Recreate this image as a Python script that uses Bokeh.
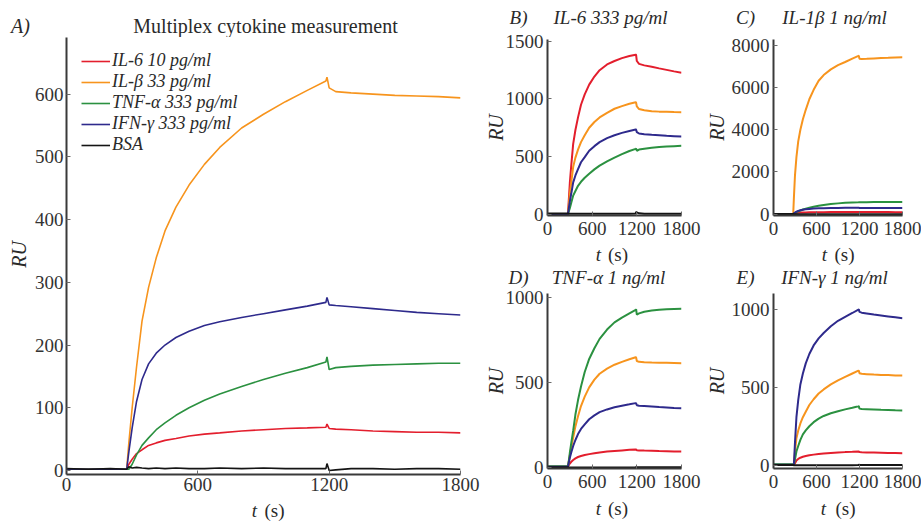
import math
from bokeh.plotting import figure
from bokeh.models import Range1d, FixedTicker, Label
from bokeh.layouts import row, column
from bokeh.embed import file_html
from bokeh.resources import INLINE

# ---------------- data (time in s, response in RU) ----------------
T = [0, 100, 200, 275, 285, 300, 320, 345, 375, 410, 450, 500, 560, 630, 700,
     800, 900, 1000, 1100, 1185, 1190, 1200, 1230, 1300, 1400, 1500, 1600, 1700, 1800]

LEGEND_LABELS = ["IL-6 10 pg/ml", "IL-β 33 pg/ml", "TNF-α 333 pg/ml", "IFN-γ 333 pg/ml", "BSA"]
PANEL_TITLES = ["IL-6 333 pg/ml", "IL-1β 1 ng/ml", "TNF-α 1 ng/ml", "IFN-γ 1 ng/ml"]
PANEL_LETTERS = ["B)", "C)", "D)", "E)"]
X_TICKS = [0, 600, 1200, 1800]

# Panel A: multiplex
A_IL6 = [2, 2, 2, 2, 10, 18, 27, 33, 40, 44, 48, 51, 55, 58, 60, 63, 65, 67, 68, 69, 74, 67, 66, 65, 63, 62, 61, 61, 60]
A_IL1B = [2, 2, 2, 2, 45, 100, 165, 238, 292, 339, 382, 420, 455, 488, 515, 546, 568, 588, 606, 621, 627, 610, 604, 602, 600, 598, 597, 596, 594]
A_TNF = [2, 2, 2, 2, 2, 10, 25, 40, 52, 65, 76, 88, 100, 112, 122, 134, 145, 155, 164, 173, 181, 161, 164, 166, 168, 169, 170, 171, 171]
A_IFN = [2, 2, 2, 2, 30, 68, 110, 145, 170, 187, 200, 212, 222, 231, 237, 244, 250, 256, 262, 268, 276, 264, 263, 261, 258, 255, 252, 250, 248]
A_BSA = [3, 2, 3, 2, 6, 4, 5, 4, 3, 4, 3, 4, 3, 3, 4, 3, 4, 3, 3, 3, 11, 0, 1, 3, 3, 2, 3, 3, 2]
A_YTICKS = [0, 100, 200, 300, 400, 500, 600]

# Panel B: IL-6 333 pg/ml
B_IL6 = [0, 0, 0, 0, 110, 270, 430, 610, 730, 840, 950, 1040, 1125, 1195, 1250, 1300, 1330, 1355, 1373, 1385, 1383, 1330, 1305, 1292, 1280, 1266, 1253, 1240, 1228]
B_IL1B = [0, 0, 0, 0, 70, 170, 280, 410, 490, 560, 625, 685, 750, 800, 840, 880, 915, 938, 958, 972, 968, 935, 912, 902, 894, 890, 888, 886, 885]
B_TNF = [0, 0, 0, 0, 20, 50, 100, 160, 200, 245, 280, 315, 350, 388, 420, 457, 490, 520, 548, 566, 568, 550, 560, 568, 576, 582, 587, 590, 593]
B_IFN = [0, 0, 0, 0, 45, 110, 180, 275, 335, 390, 450, 495, 550, 590, 625, 660, 685, 705, 722, 735, 733, 712, 700, 694, 688, 684, 680, 677, 674]
B_BSA = [5, 5, 5, 5, 3, 2, 2, 2, 2, 2, 2, 2, 2, 2, 2, 2, 2, 2, 2, 4, 18, 14, 6, 2, 2, 2, 2, 2, 2]
B_YTICKS = [0, 500, 1000, 1500]

# Panel C: IL-1b 1 ng/ml
C_IL6 = [0, 0, 0, 0, 15, 35, 50, 60, 68, 73, 77, 80, 83, 86, 88, 90, 92, 94, 95, 96, 96, 93, 92, 92, 91, 90, 90, 89, 89]
C_IL1B = [0, 0, 0, 0, 800, 1850, 2700, 3450, 4000, 4500, 4950, 5450, 5900, 6330, 6600, 6870, 7070, 7220, 7380, 7510, 7520, 7380, 7360, 7370, 7390, 7410, 7420, 7435, 7445]
C_TNF = [0, 0, 0, 0, 20, 50, 85, 125, 165, 215, 255, 300, 345, 390, 430, 475, 505, 530, 550, 562, 563, 560, 561, 563, 565, 566, 567, 568, 568]
C_IFN = [0, 0, 0, 0, 30, 70, 110, 150, 180, 205, 225, 243, 258, 270, 278, 285, 290, 293, 295, 297, 297, 290, 289, 288, 286, 284, 282, 281, 280]
C_BSA = [0, 0, 0, 0, -10, -10, -10, -10, -10, -10, -10, -10, -10, -10, -10, -10, -10, -10, -10, -10, -10, -10, -10, -10, -10, -10, -10, -10, -10]
C_YTICKS = [0, 2000, 4000, 6000, 8000]

# Panel D: TNF-a 1 ng/ml
D_IL6 = [3, 3, 3, 3, 12, 22, 32, 42, 52, 60, 66, 72, 77, 82, 87, 92, 96, 99, 102, 104, 104, 100, 99, 98, 97, 95, 94, 93, 92]
D_IL1B = [3, 3, 3, 3, 30, 70, 120, 175, 240, 300, 360, 415, 470, 515, 550, 580, 603, 620, 635, 647, 646, 625, 620, 618, 616, 615, 614, 613, 612]
D_TNF = [5, 5, 5, 5, 35, 85, 145, 215, 310, 395, 475, 560, 637, 700, 755, 810, 852, 880, 905, 925, 930, 898, 905, 915, 922, 926, 929, 931, 932]
D_IFN = [3, 3, 3, 3, 25, 55, 88, 125, 160, 195, 225, 252, 282, 305, 324, 340, 353, 362, 370, 377, 376, 365, 362, 360, 357, 354, 352, 349, 347]
D_BSA = [0, 0, 0, 0, -2, -2, -2, -2, -2, -2, -2, -2, -2, -2, -2, -2, -2, -2, -1, 0, 2, 1, 0, 0, 0, 0, 0, 0, 0]
D_YTICKS = [0, 500, 1000]

# Panel E: IFN-g 1 ng/ml
E_IL6 = [3, 3, 3, 3, 3, 15, 32, 42, 50, 56, 61, 66, 70, 74, 77, 80, 83, 86, 88, 90, 90, 86, 85, 84, 83, 82, 81, 80, 79]
E_IL1B = [5, 5, 5, 5, 5, 90, 175, 225, 270, 310, 345, 388, 425, 462, 488, 520, 546, 568, 590, 608, 609, 592, 588, 586, 583, 581, 580, 578, 577]
E_TNF = [8, 8, 8, 8, 5, 40, 90, 125, 165, 200, 225, 252, 278, 301, 318, 335, 348, 360, 370, 380, 381, 365, 362, 361, 359, 357, 356, 354, 353]
E_IFN = [5, 5, 5, 5, 10, 150, 310, 420, 520, 590, 655, 715, 770, 815, 850, 893, 928, 953, 978, 1000, 1002, 985, 980, 975, 968, 962, 956, 950, 944]
E_BSA = [3, 3, 3, 3, 2, 2, 2, 2, 2, 2, 2, 2, 2, 2, 2, 2, 2, 2, 2, 3, 6, 4, 3, 3, 3, 3, 3, 3, 3]
E_YTICKS = [0, 500, 1000]

COLORS = ["#e31e2d", "#f7941d", "#2b9140", "#2e2a8c", "#141414"]
FONT = "Liberation Serif"
TXT = "#2a2a2a"


def make_plot(width, height, bl, br, bt, bb, yr, yticks, xstand, ystand):
    p = figure(width=width, height=height, x_range=Range1d(0, 1800), y_range=Range1d(*yr),
               output_backend="svg", toolbar_location=None,
               min_border_left=bl, min_border_right=br, min_border_top=bt, min_border_bottom=bb)
    p.xgrid.visible = False
    p.ygrid.visible = False
    p.outline_line_color = None
    for ax in (p.xaxis[0], p.yaxis[0]):
        ax.axis_line_width = 2
        ax.axis_line_color = "#3a3a3a"
        ax.major_tick_in = 4
        ax.major_tick_out = 0
        ax.major_tick_line_color = "#6a6a6a"
        ax.minor_tick_line_color = None
        ax.major_label_text_font = FONT
        ax.major_label_text_font_size = "19px"
        ax.major_label_text_color = "#333333"
    p.xaxis.ticker = FixedTicker(ticks=X_TICKS)
    p.yaxis.ticker = FixedTicker(ticks=yticks)
    p.xaxis.major_label_standoff = xstand
    p.yaxis.major_label_standoff = ystand
    return p


def strip(w, h, items):
    """A text-only figure; items = (x, y_from_top, text, italic, size, angle), pixel positions."""
    s = figure(width=w, height=h, x_range=Range1d(0, w), y_range=Range1d(0, h),
               output_backend="svg", toolbar_location=None,
               x_axis_location=None, y_axis_location=None,
               min_border_left=0, min_border_right=0, min_border_top=0, min_border_bottom=0)
    s.outline_line_color = None
    s.center = []
    for x, ytop, text, italic, size, angle in items:
        s.add_layout(Label(x=x, y=h - ytop, text=text, x_units="data", y_units="data",
                           text_font=FONT, text_font_style="italic" if italic else "normal",
                           text_font_size=size, text_color=TXT, text_align="center",
                           text_baseline="middle", angle=angle))
    return s


V = math.pi / 2

# ---------------- panel A ----------------
pA = make_plot(453, 462, 38, 21, 0, 25, (-6.4, 690.3), A_YTICKS, 3, 3)
for ys, c, name in zip([A_IL6, A_IL1B, A_TNF, A_IFN, A_BSA], COLORS, LEGEND_LABELS):
    pA.line(T, ys, line_color=c, line_width=1.6, legend_label=name)
lg = pA.legend[0]
lg.location = (15, 319)
lg.border_line_color = None
lg.background_fill_alpha = 0
lg.label_text_font = FONT
lg.label_text_font_style = "italic"
lg.label_text_font_size = "18px"
lg.label_text_color = TXT
lg.glyph_width = 29
lg.glyph_height = 20
lg.label_height = 20
lg.spacing = 0
lg.padding = 0
lg.margin = 0
lg.label_standoff = 2

topA = strip(481, 37, [(20, 25, "A)", True, "20px", 0.0),
                       (265, 25, "Multiplex cytokine measurement", False, "20px", 0.0)])
ruA = strip(28, 462, [(18, 217, "RU", True, "20px", V)])
botA = strip(481, 22, [(254, 11, "t", True, "19px", 0.0), (274, 11, "(s)", False, "19px", 0.0)])
panelA = column(topA, row(ruA, column(pA)), botA)

# ---------------- panels B-E ----------------
specs = [
    dict(series=[B_IL6, B_IL1B, B_TNF, B_IFN, B_BSA], yticks=B_YTICKS, yr=(-13, 1517),
         w=221, b=(60, 21, 9, 27), ru_stand=-4, top_h=30, plot_h=212, bot_h=23,
         lx=37, tx=129, ty=17, t_x=117, s_x=136.5, by=12),
    dict(series=[C_IL6, C_IL1B, C_TNF, C_IFN, C_BSA], yticks=C_YTICKS, yr=(-71, 8290),
         w=219, b=(65, 19, 9, 27), ru_stand=1, top_h=30, plot_h=212, bot_h=23,
         lx=43, tx=132, ty=17, t_x=122, s_x=142, by=12),
    dict(series=[D_IL6, D_IL1B, D_TNF, D_IFN, D_BSA], yticks=D_YTICKS, yr=(-7.6, 1022),
         w=221, b=(60, 21, 5, 27), ru_stand=-4, top_h=23, plot_h=207, bot_h=26,
         lx=37, tx=127, ty=11.7, t_x=117, s_x=136.5, by=13),
    dict(series=[E_IL6, E_IL1B, E_TNF, E_IFN, E_BSA], yticks=E_YTICKS, yr=(-19, 1103),
         w=219, b=(65, 19, 5, 27), ru_stand=1, top_h=23, plot_h=207, bot_h=26,
         lx=43, tx=132, ty=11.7, t_x=121, s_x=143, by=13),
]

tops, plots, bots = [], [], []
for sp, letter, title in zip(specs, PANEL_LETTERS, PANEL_TITLES):
    bl, br, bt, bb = sp["b"]
    p = make_plot(sp["w"], sp["plot_h"], bl, br, bt, bb, sp["yr"], sp["yticks"], 6, 4)
    for ys, c in zip(sp["series"], COLORS):
        p.line(T, ys, line_color=c, line_width=2)
    p.yaxis.axis_label = "RU"
    p.yaxis.axis_label_text_font = FONT
    p.yaxis.axis_label_text_font_style = "italic"
    p.yaxis.axis_label_text_font_size = "20px"
    p.yaxis.axis_label_text_color = TXT
    p.yaxis.axis_label_standoff = sp["ru_stand"]
    plots.append(p)
    tops.append(strip(sp["w"], sp["top_h"], [(sp["lx"], sp["ty"], letter, True, "19px", 0.0),
                                             (sp["tx"], sp["ty"], title, True, "19px", 0.0)]))
    bots.append(strip(sp["w"], sp["bot_h"], [(sp["t_x"], sp["by"], "t", True, "19px", 0.0),
                                             (sp["s_x"], sp["by"], "(s)", False, "19px", 0.0)]))

right = column(row(tops[0], tops[1]), row(plots[0], plots[1]), row(bots[0], bots[1]),
               row(tops[2], tops[3]), row(plots[2], plots[3]), row(bots[2], bots[3]))

layout = row(panelA, right)

with open("out.html", "w") as f:
    f.write(file_html(layout, INLINE))
